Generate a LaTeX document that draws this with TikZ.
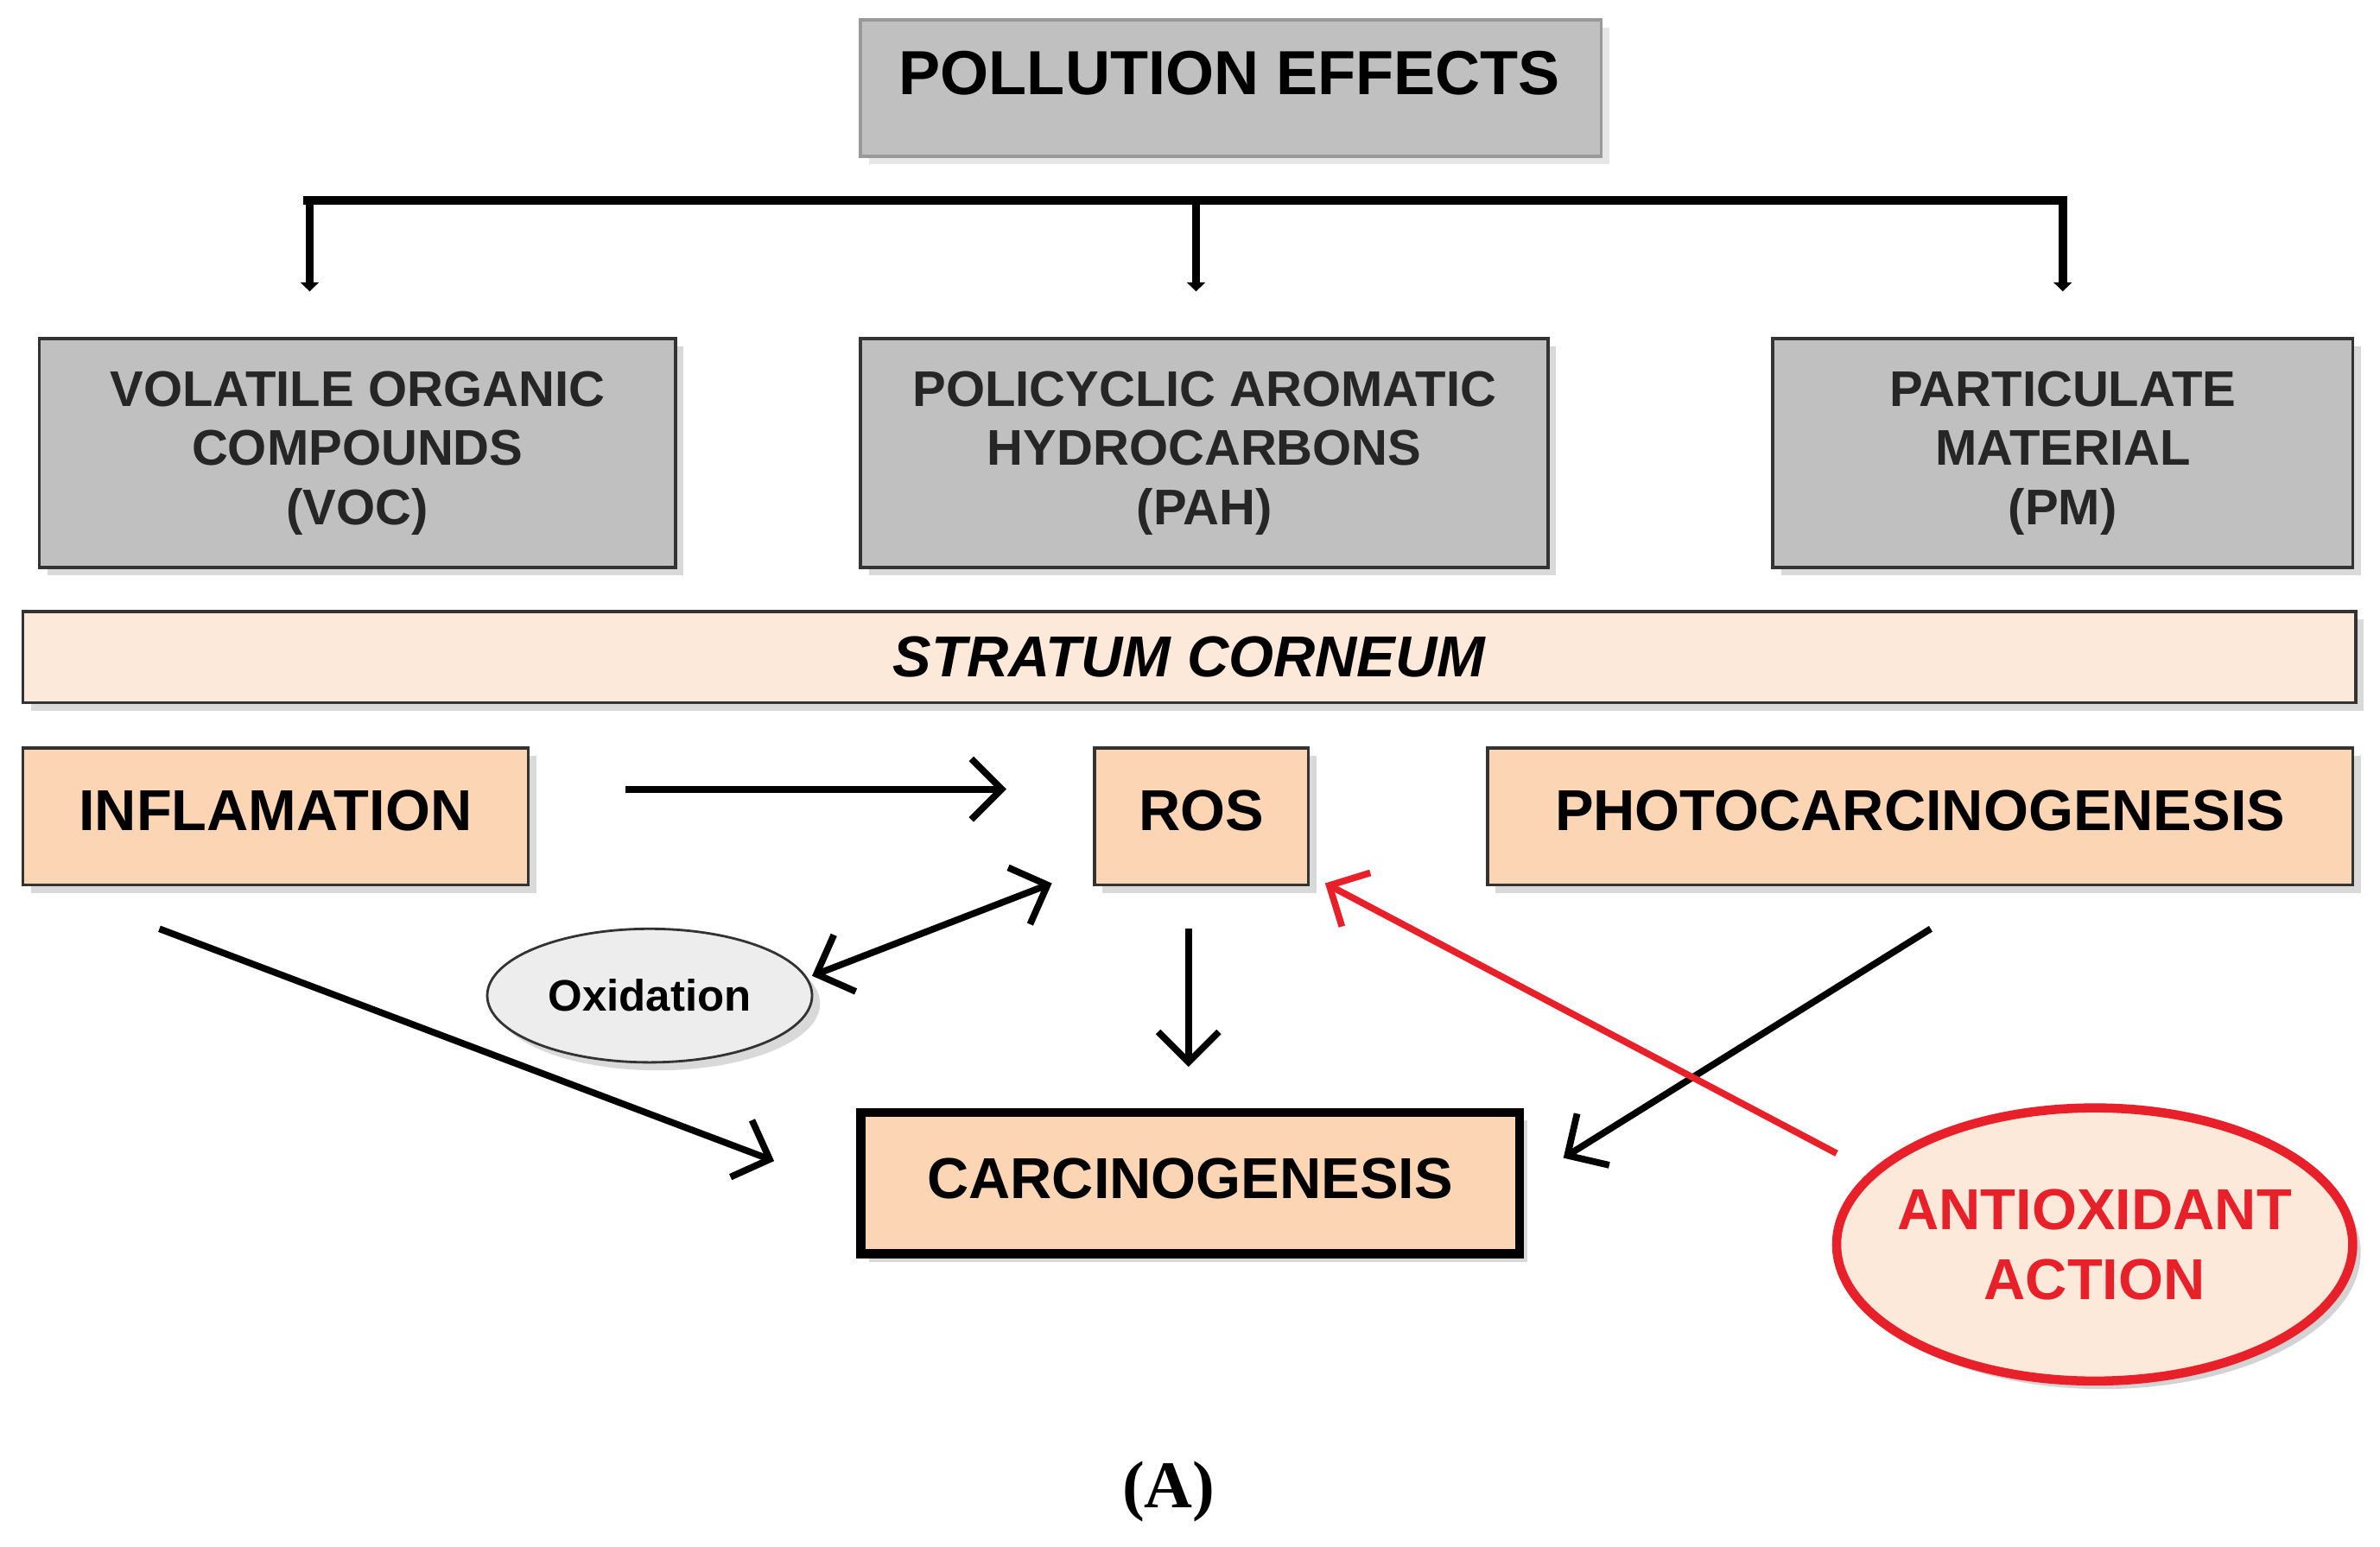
\documentclass[tikz,border=0pt]{standalone}
\usepackage{fontspec}
\setmainfont{Liberation Sans}
\newfontfamily\serifA{Liberation Serif}
\usetikzlibrary{arrows.meta,shadows,shapes.geometric}
\definecolor{gbox}{HTML}{C0C0C0}
\definecolor{peach}{HTML}{FCD5B5}
\definecolor{lpeach}{HTML}{FDE9D9}
\definecolor{rred}{HTML}{E8202A}
\begin{document}
\begin{tikzpicture}[x=0.01757cm,y=-0.01757cm,
 gb/.style={draw=black!80,line width=1pt,fill=gbox,align=center,font=\bfseries\fontsize{16.5}{19.5}\selectfont,text=black!85,drop shadow={opacity=0.3}},
 pb/.style={draw=black!80,line width=1pt,fill=peach,font=\bfseries\fontsize{19}{22}\selectfont,drop shadow={opacity=0.3}},
 ar/.style={line width=2.2pt,-{Straight Barb[length=10pt,width=20pt,line width=2.2pt]}},
 dar/.style={line width=2.2pt,{Straight Barb[length=10pt,width=20pt,line width=2.2pt]}-{Straight Barb[length=10pt,width=20pt,line width=2.2pt]}}]
\useasboundingbox (0,0) rectangle (1568,1019);
\node[draw=black!40,line width=1pt,fill=gbox,anchor=north west,inner sep=0pt,minimum width=488*0.01757cm,minimum height=90*0.01757cm,drop shadow={opacity=0.2}] (pe) at (566,12) {};
\node[font=\bfseries\fontsize{20.5}{23}\selectfont] at (810,48) {POLLUTION EFFECTS};
\coordinate (b1) at (204,132); \coordinate (b2) at (788,132); \coordinate (b3) at (1359,132);
\coordinate (c1) at (204,192); \coordinate (c2) at (788,192); \coordinate (c3) at (1359,192);
\draw[line width=2.8pt] (200,132) -- (1362,132);
\foreach \i in {1,2,3}{\draw[line width=2.8pt,-{Triangle[length=3pt,width=6pt]}] (b\i) -- (c\i);}
\node[gb,anchor=north west,minimum width=419*0.01757cm,minimum height=151*0.01757cm] (voc) at (25,222) {VOLATILE ORGANIC\\COMPOUNDS\\(VOC)};
\node[gb,anchor=north west,minimum width=453*0.01757cm,minimum height=151*0.01757cm] (pah) at (566,222) {POLICYCLIC AROMATIC\\HYDROCARBONS\\(PAH)};
\node[gb,anchor=north west,minimum width=382*0.01757cm,minimum height=151*0.01757cm] (pm) at (1167,222) {PARTICULATE\\MATERIAL\\(PM)};
\node[draw=black!80,line width=1pt,fill=lpeach,anchor=north west,minimum width=1537*0.01757cm,minimum height=60*0.01757cm,font=\bfseries\itshape\fontsize{19}{22}\selectfont,drop shadow={opacity=0.3}] (sc) at (14,402) {STRATUM CORNEUM};
\node[pb,anchor=north west,minimum width=333*0.01757cm,minimum height=90*0.01757cm] (inf) at (14,492) {\raisebox{4pt}{INFLAMATION}};
\node[pb,anchor=north west,minimum width=141*0.01757cm,minimum height=90*0.01757cm] (ros) at (720,492) {\raisebox{4pt}{ROS}};
\node[pb,anchor=north west,minimum width=570*0.01757cm,minimum height=90*0.01757cm] (pho) at (979,492) {\raisebox{4pt}{PHOTOCARCINOGENESIS}};
\node[pb,line width=3pt,draw=black,anchor=north west,minimum width=434*0.01757cm,minimum height=93*0.01757cm] (car) at (564,730) {\raisebox{3pt}{CARCINOGENESIS}};
\node[ellipse,draw=black!80,line width=0.8pt,fill=black!7,minimum width=214*0.01757cm,minimum height=88*0.01757cm,inner sep=0pt,font=\bfseries\fontsize{14.5}{17}\selectfont,drop shadow={opacity=0.3}] (ox) at (428,656) {Oxidation};
\node[ellipse,draw=rred,line width=3pt,fill=lpeach,minimum width=340*0.01757cm,minimum height=180*0.01757cm,inner sep=0pt,drop shadow={opacity=0.35}] (ao) at (1380,820) {};
\node[align=center,text=rred,font=\bfseries\fontsize{19}{23}\selectfont] at (ao.center) {ANTIOXIDANT\\ACTION};
\coordinate (i1) at (412,520); \coordinate (r1) at (663,520);
\draw[ar] (i1) -- (r1);
\coordinate (r2) at (693,582); \coordinate (o2) at (535,643);
\draw[dar] (o2) -- (r2);
\coordinate (r3) at (783,612); \coordinate (k3) at (783,703);
\draw[ar] (r3) -- (k3);
\coordinate (i4) at (105,612); \coordinate (k4) at (510,765);
\draw[ar] (i4) -- (k4);
\coordinate (p5) at (1272,612); \coordinate (k5) at (1030,763);
\draw[ar] (p5) -- (k5);
\coordinate (a6) at (1210,760); \coordinate (r6) at (873,582);
\draw[ar,draw=rred] (a6) -- (r6);
\node[font=\serifA\bfseries\fontsize{22}{24}\selectfont] (lab) at (770,983) {(A)};
\end{tikzpicture}
\end{document}
